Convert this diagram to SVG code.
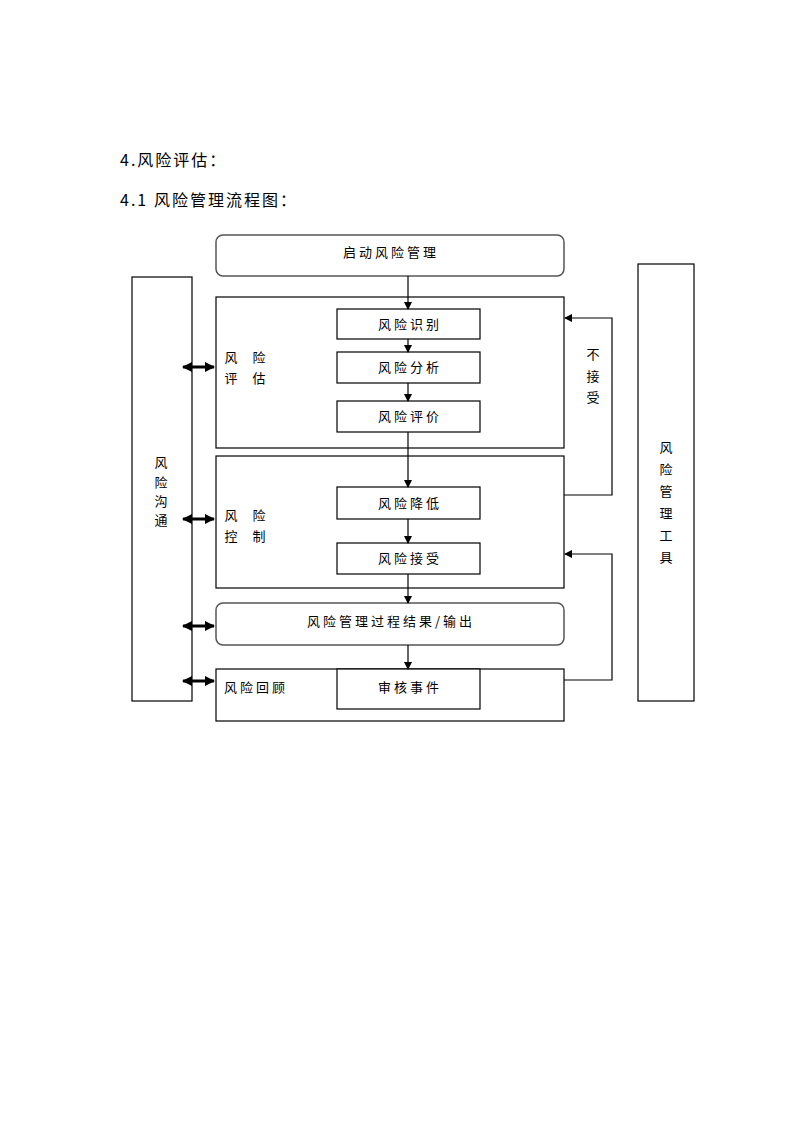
<svg xmlns="http://www.w3.org/2000/svg" width="793" height="1122" viewBox="0 0 793 1122">
<style>
text{font-family:"Noto Sans CJK SC","Noto Sans",sans-serif;font-size:13px;fill:#000;}
.h{font-size:16px;letter-spacing:2px;}
.c{text-anchor:middle;letter-spacing:3px;}
.m{text-anchor:middle;}
.box{fill:#fff;stroke:#000;stroke-width:1.2;}
.rbox{fill:#fff;stroke:#555;stroke-width:1.5;}
.ln{fill:none;stroke:#000;stroke-width:1.2;}
.dbl{fill:none;stroke:#000;stroke-width:3;}
</style>
<defs>
<marker id="ah" markerWidth="8" markerHeight="8" refX="7" refY="4" orient="auto" markerUnits="userSpaceOnUse">
<path d="M0,0 L8,4 L0,8 z" fill="#000"/>
</marker>
<marker id="dh" markerWidth="10" markerHeight="10" refX="9" refY="5" orient="auto-start-reverse" markerUnits="userSpaceOnUse">
<path d="M0,0 L10,5 L0,10 z" fill="#000"/>
</marker>
</defs>
<rect width="793" height="1122" fill="#fff"/>
<text class="h" x="120" y="166">4.风险评估：</text>
<text class="h" x="120" y="206">4.1</text>
<text class="h" x="154" y="206">风险管理流程图：</text>

<g id="start"><rect class="rbox" x="216" y="235" width="348" height="41" rx="7"/><text class="c" x="391" y="257">启动风险管理</text></g>
<g id="comm"><rect class="box" x="132" y="277" width="60" height="424"/>
<text class="m" x="161" y="467">风</text><text class="m" x="161" y="487">险</text><text class="m" x="161" y="506">沟</text><text class="m" x="161" y="525">通</text></g>
<g id="tools"><rect class="box" x="638" y="264" width="56" height="437"/>
<text class="m" x="666" y="452">风</text><text class="m" x="666" y="474">险</text><text class="m" x="666" y="496">管</text><text class="m" x="666" y="518">理</text><text class="m" x="666" y="540">工</text><text class="m" x="666" y="562">具</text></g>

<g id="assess"><rect class="box" x="216" y="297" width="348" height="151"/>
<text class="m" x="231" y="362">风</text><text class="m" x="259" y="362">险</text>
<text class="m" x="231" y="383">评</text><text class="m" x="259" y="383">估</text></g>
<g id="identify"><rect class="box" x="337" y="309" width="143" height="30"/><text class="c" x="410" y="329">风险识别</text></g>
<g id="analyze"><rect class="box" x="337" y="352" width="143" height="31"/><text class="c" x="410" y="372">风险分析</text></g>
<g id="evaluate"><rect class="box" x="337" y="401" width="143" height="31"/><text class="c" x="410" y="421">风险评价</text></g>

<g id="control"><rect class="box" x="216" y="456" width="348" height="132"/>
<text class="m" x="231" y="520">风</text><text class="m" x="259" y="520">险</text>
<text class="m" x="231" y="541">控</text><text class="m" x="259" y="541">制</text></g>
<g id="reduce"><rect class="box" x="337" y="487" width="143" height="32"/><text class="c" x="410" y="508">风险降低</text></g>
<g id="accept"><rect class="box" x="337" y="543" width="143" height="31"/><text class="c" x="410" y="563">风险接受</text></g>

<g id="output"><rect class="rbox" x="216" y="603" width="348" height="42" rx="7"/><text class="c" x="391" y="626">风险管理过程结果/输出</text></g>
<g id="review"><rect class="box" x="216" y="669" width="348" height="52"/><text x="224" y="692" style="letter-spacing:3px">风险回顾</text></g>
<g id="audit"><rect class="box" x="337" y="669" width="143" height="40"/><text class="c" x="410" y="692">审核事件</text></g>

<g id="reject"><text class="m" x="593" y="359">不</text><text class="m" x="593" y="381">接</text><text class="m" x="593" y="402">受</text></g>

<g id="connectors">
<line class="ln" x1="408" y1="276" x2="408" y2="309" marker-end="url(#ah)"/>
<line class="ln" x1="408" y1="339" x2="408" y2="352" marker-end="url(#ah)"/>
<line class="ln" x1="408" y1="383" x2="408" y2="401" marker-end="url(#ah)"/>
<line class="ln" x1="408" y1="432" x2="408" y2="487" marker-end="url(#ah)"/>
<line class="ln" x1="408" y1="519" x2="408" y2="543" marker-end="url(#ah)"/>
<line class="ln" x1="408" y1="574" x2="408" y2="603" marker-end="url(#ah)"/>
<line class="ln" x1="408" y1="645" x2="408" y2="669" marker-end="url(#ah)"/>
<polyline class="ln" points="564,495 612,495 612,318 565,318" marker-end="url(#ah)"/>
<polyline class="ln" points="564,680 612,680 612,554 565,554" marker-end="url(#ah)"/>
<line class="dbl" x1="183" y1="367" x2="214" y2="367" marker-start="url(#dh)" marker-end="url(#dh)"/>
<line class="dbl" x1="183" y1="519" x2="214" y2="519" marker-start="url(#dh)" marker-end="url(#dh)"/>
<line class="dbl" x1="183" y1="626" x2="214" y2="626" marker-start="url(#dh)" marker-end="url(#dh)"/>
<line class="dbl" x1="183" y1="681" x2="214" y2="681" marker-start="url(#dh)" marker-end="url(#dh)"/>
</g>
</svg>
